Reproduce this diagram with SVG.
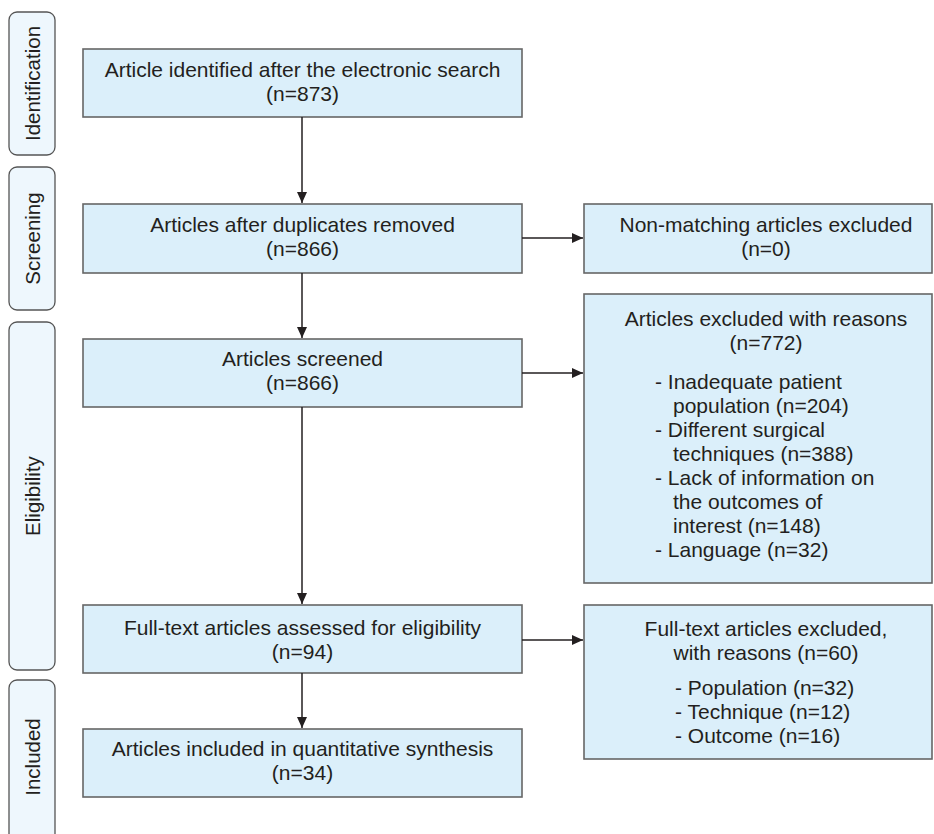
<svg xmlns="http://www.w3.org/2000/svg" width="934" height="834" viewBox="0 0 934 834">
<defs>
<marker id="ah" markerWidth="11" markerHeight="11" refX="11" refY="5.5" orient="auto" markerUnits="userSpaceOnUse">
<path d="M0,0.5 L11,5.5 L0,10.5 Z" fill="#231f20"/>
</marker>
</defs>
<style>
.lab{fill:#eef7fd;stroke:#555;stroke-width:1.3}
.box{fill:#dbeffa;stroke:#666;stroke-width:1.6}
.t{font-family:"Liberation Sans",Arial,sans-serif;font-size:21px;fill:#231f20}
.c{text-anchor:middle}
.lt{font-family:"Liberation Sans",Arial,sans-serif;font-size:20.5px;fill:#231f20;text-anchor:middle}
.con{stroke:#231f20;stroke-width:1.5;fill:none;marker-end:url(#ah)}
</style>
<rect width="934" height="834" fill="#fff"/>
<g id="lab-identification"><rect class="lab" x="9" y="12" width="46" height="143" rx="8"/><text class="lt" transform="translate(40,83.5) rotate(-90)">Identification</text></g>
<g id="lab-screening"><rect class="lab" x="9" y="167" width="46" height="143" rx="8"/><text class="lt" transform="translate(40,238.5) rotate(-90)">Screening</text></g>
<g id="lab-eligibility"><rect class="lab" x="9" y="322" width="46" height="348" rx="8"/><text class="lt" transform="translate(40,496) rotate(-90)">Eligibility</text></g>
<g id="lab-included"><rect class="lab" x="9" y="680" width="46" height="170" rx="8"/><text class="lt" transform="translate(40,757) rotate(-90)">Included</text></g>

<g id="n1"><rect class="box" x="83" y="49" width="439" height="68"/><text class="t c" x="302.5" y="77">Article identified after the electronic search</text><text class="t c" x="302.5" y="101">(n=873)</text></g>
<g id="n2"><rect class="box" x="83" y="204" width="439" height="69"/><text class="t c" x="302.5" y="232">Articles after duplicates removed</text><text class="t c" x="302.5" y="256">(n=866)</text></g>
<g id="n3"><rect class="box" x="83" y="339" width="439" height="68"/><text class="t c" x="302.5" y="366">Articles screened</text><text class="t c" x="302.5" y="390">(n=866)</text></g>
<g id="n4"><rect class="box" x="83" y="605" width="439" height="68"/><text class="t c" x="302.5" y="635">Full-text articles assessed for eligibility</text><text class="t c" x="302.5" y="659">(n=94)</text></g>
<g id="n5"><rect class="box" x="83" y="729" width="439" height="68"/><text class="t c" x="302.5" y="756">Articles included in quantitative synthesis</text><text class="t c" x="302.5" y="780">(n=34)</text></g>

<g id="r1"><rect class="box" x="584" y="204" width="348" height="69"/><text class="t c" x="766" y="232">Non-matching articles excluded</text><text class="t c" x="766" y="256">(n=0)</text></g>
<g id="r2"><rect class="box" x="584" y="294" width="348" height="289"/><text class="t c" x="766" y="326">Articles excluded with reasons</text><text class="t c" x="766" y="350">(n=772)</text>
<text class="t" x="655" y="389">- Inadequate patient</text>
<text class="t" x="673" y="413">population (n=204)</text>
<text class="t" x="655" y="437">- Different surgical</text>
<text class="t" x="673" y="461">techniques (n=388)</text>
<text class="t" x="655" y="485">- Lack of information on</text>
<text class="t" x="673" y="509">the outcomes of</text>
<text class="t" x="673" y="533">interest (n=148)</text>
<text class="t" x="655" y="557">- Language (n=32)</text></g>
<g id="r3"><rect class="box" x="584" y="605" width="348" height="154"/><text class="t c" x="766" y="636">Full-text articles excluded,</text><text class="t c" x="766" y="660">with reasons (n=60)</text>
<text class="t" x="675" y="695">- Population (n=32)</text>
<text class="t" x="675" y="719">- Technique (n=12)</text>
<text class="t" x="675" y="743">- Outcome (n=16)</text></g>

<g id="connectors">
<line class="con" x1="302" y1="117" x2="302" y2="203"/>
<line class="con" x1="302" y1="273" x2="302" y2="338"/>
<line class="con" x1="302" y1="407" x2="302" y2="604"/>
<line class="con" x1="302" y1="673" x2="302" y2="728"/>
<line class="con" x1="522" y1="238" x2="583" y2="238"/>
<line class="con" x1="522" y1="373" x2="583" y2="373"/>
<line class="con" x1="522" y1="640" x2="583" y2="640"/>
</g>
</svg>
